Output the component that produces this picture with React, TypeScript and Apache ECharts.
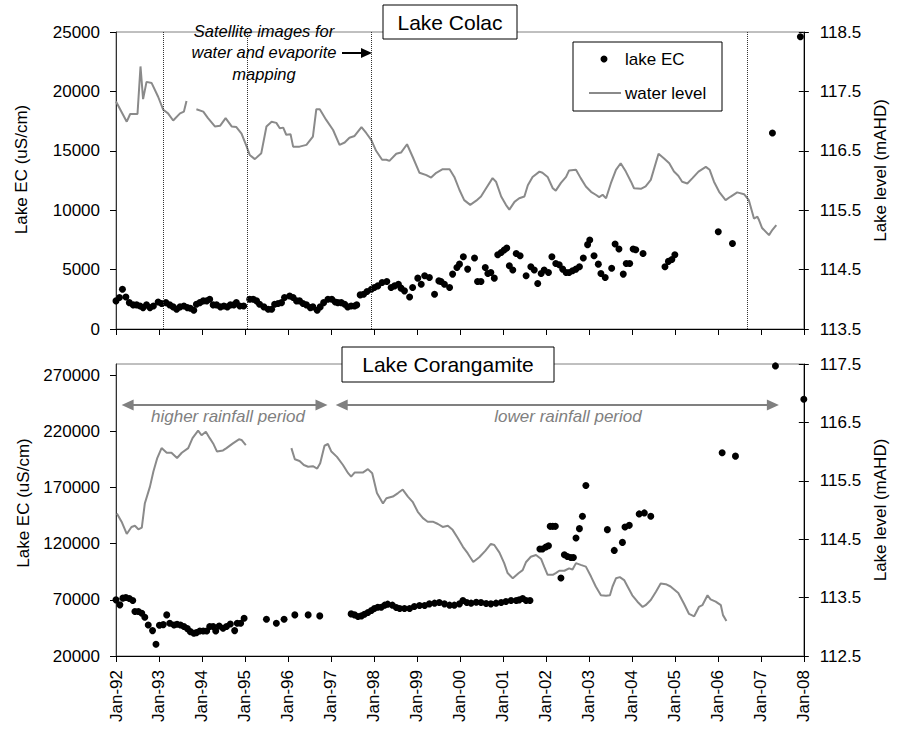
import React, { useEffect, useRef } from 'react';
import * as echarts from 'echarts';

// ---------- Lake Colac ----------
const colacLevelYear = [
  1992.0, 1992.25, 1992.33, 1992.5, 1992.57, 1992.63, 1992.71, 1992.83, 1992.98, 1993.1,
  1993.21, 1993.33, 1993.49, 1993.58, 1993.64, 1993.75, 1993.87, 1994.03, 1994.14, 1994.3,
  1994.42, 1994.55, 1994.69, 1994.8, 1994.92, 1995.04, 1995.11, 1995.23, 1995.38, 1995.5,
  1995.62, 1995.73, 1995.81, 1995.89, 1995.96, 1996.06, 1996.12, 1996.27, 1996.43, 1996.58,
  1996.66, 1996.74, 1996.89, 1997.05, 1997.2, 1997.32, 1997.43, 1997.55, 1997.71, 1997.82,
  1997.94, 1998.05, 1998.19, 1998.29, 1998.36, 1998.52, 1998.63, 1998.77, 1998.9, 1999.06,
  1999.22, 1999.33, 1999.45, 1999.6, 1999.76, 1999.87, 1999.99, 2000.1, 2000.24, 2000.38,
  2000.49, 2000.61, 2000.76, 2000.84, 2000.96, 2001.07, 2001.15, 2001.27, 2001.38, 2001.5,
  2001.58, 2001.69, 2001.85, 2001.92, 2002.04, 2002.16, 2002.23, 2002.35, 2002.47, 2002.54,
  2002.7, 2002.81, 2002.93, 2003.05, 2003.16, 2003.24, 2003.32, 2003.4, 2003.51, 2003.63,
  2003.74, 2003.86, 2003.98, 2004.05, 2004.21, 2004.32, 2004.44, 2004.62, 2004.75, 2004.87,
  2004.98, 2005.08, 2005.17, 2005.29, 2005.41, 2005.55, 2005.72, 2005.81, 2005.91, 2006.03,
  2006.18, 2006.3, 2006.45, 2006.61, 2006.72, 2006.84, 2006.92, 2006.96, 2007.03, 2007.19,
  2007.27, 2007.36,
];
const colacLevel = [
  117.33, 116.99, 117.12, 117.12, 117.92, 117.37, 117.66, 117.64, 117.41, 117.19,
  117.13, 117.01, 117.13, 117.16, 117.34, null, 117.2, 117.16, 117.05, 116.91,
  116.92, 117.05, 116.91, 116.9, 116.79, 116.57, 116.43, 116.36, 116.46, 116.91,
  116.99, 116.97, 116.88, 116.89, 116.77, 116.78, 116.57, 116.57, 116.6, 116.74,
  117.2, 117.2, 117.02, 116.85, 116.6, 116.64, 116.72, 116.75, 116.9, 116.8,
  116.68, 116.5, 116.35, 116.35, 116.33, 116.45, 116.47, 116.61, 116.4, 116.13,
  116.09, 116.05, 116.13, 116.19, 116.19, 116.06, 115.84, 115.67, 115.59, 115.66,
  115.73, 115.87, 116.04, 115.98, 115.73, 115.59, 115.51, 115.64, 115.7, 115.73,
  115.92, 116.06, 116.15, 116.13, 116.06, 115.87, 115.83, 115.96, 116.06, 116.17,
  116.18, 116.04, 115.9, 115.81, 115.76, 115.72, 115.76, 115.7, 115.95, 116.18,
  116.29, 116.15, 115.98, 115.87, 115.86, 115.9, 116.01, 116.45, 116.37, 116.29,
  116.15, 116.08, 115.98, 115.95, 116.04, 116.15, 116.23, 116.18, 115.98, 115.81,
  115.67, 115.73, 115.8, 115.77, 115.67, 115.36, 115.39, 115.33, 115.2, 115.08,
  115.17, 115.25,
];
const colacECYear = [
  1992.0, 1992.08, 1992.15, 1992.23, 1992.31, 1992.4, 1992.48, 1992.56, 1992.63, 1992.71,
  1992.79, 1992.87, 1992.98, 1993.06, 1993.16, 1993.25, 1993.33, 1993.41, 1993.49, 1993.58,
  1993.66, 1993.73, 1993.81, 1993.87, 1993.95, 1994.03, 1994.11, 1994.18, 1994.26, 1994.34,
  1994.43, 1994.51, 1994.59, 1994.66, 1994.74, 1994.8, 1994.88, 1994.97, 1995.11, 1995.19,
  1995.27, 1995.34, 1995.44, 1995.54, 1995.62, 1995.69, 1995.77, 1995.85, 1995.92, 1996.04,
  1996.12, 1996.2, 1996.27, 1996.35, 1996.43, 1996.52, 1996.58, 1996.68, 1996.75, 1996.83,
  1996.93, 1997.02, 1997.1, 1997.16, 1997.24, 1997.32, 1997.39, 1997.47, 1997.55, 1997.6,
  1997.68, 1997.76, 1997.84, 1997.94, 1998.01, 1998.09, 1998.19, 1998.3, 1998.4, 1998.48,
  1998.57, 1998.63, 1998.71, 1998.83, 1998.9, 1999.02, 1999.1, 1999.18, 1999.29, 1999.41,
  1999.51, 1999.56, 1999.64, 1999.76, 1999.83, 1999.93, 1999.99, 2000.08, 2000.18, 2000.34,
  2000.41, 2000.49, 2000.59, 2000.65, 2000.72, 2000.8, 2000.88, 2000.96, 2001.03, 2001.09,
  2001.15, 2001.23, 2001.31, 2001.4, 2001.54, 2001.65, 2001.73, 2001.81, 2001.89, 2001.96,
  2002.06, 2002.14, 2002.23, 2002.31, 2002.39, 2002.47, 2002.54, 2002.62, 2002.7, 2002.78,
  2002.87, 2002.97, 2003.02, 2003.12, 2003.22, 2003.28, 2003.38, 2003.53, 2003.61, 2003.7,
  2003.8, 2003.87, 2003.95, 2004.03, 2004.09, 2004.26, 2004.77, 2004.85, 2004.93, 2005.0,
  2006.01, 2006.34, 2007.27, 2007.92,
];
const colacEC = [
  2365, 2645, 3350, 2700, 2220, 2030, 2030, 1940, 1800, 2030,
  1800, 1940, 2280, 2140, 2220, 2030, 1860, 1660, 1860, 1940,
  1800, 1750, 1580, 2080, 2220, 2365, 2365, 2510, 2030, 2030,
  1860, 1940, 1860, 2030, 2030, 2220, 1940, 1940, 2510, 2510,
  2365, 2080, 1860, 1660, 1660, 2080, 2140, 2220, 2645, 2785,
  2645, 2365, 2365, 2140, 2030, 1800, 1860, 1580, 1860, 2220,
  2510, 2510, 2280, 2220, 2220, 2080, 1860, 1940, 1940, 2030,
  2870, 2930, 3150, 3350, 3490, 3630, 3910, 4000, 3490, 3630,
  3770, 3440, 3210, 2700, 3490, 4280, 3770, 4480, 4330, 2930,
  4050, 4000, 3770, 3490, 4620, 5180, 5460, 6080, 5040, 5970,
  4000, 4000, 5180, 4670, 4760, 4280, 6250, 6440, 6650, 6820,
  5320, 4960, 6360, 6170, 4480, 5240, 4960, 3830, 4670, 4960,
  4760, 6080, 5520, 5410, 5040, 4760, 4760, 4900, 5040, 5240,
  5970, 7100, 7490, 6170, 5460, 4670, 4330, 5120, 7150, 6730,
  4620, 5520, 5520, 6730, 6670, 6360, 5240, 5690, 5850, 6250,
  8190, 7200, 16500, 24600,
];
const satelliteImageDates = [1993.1, 1995.06, 1997.94, 2006.69];

// ---------- Lake Corangamite ----------
const corLevelYear = [
  1992.02, 1992.13, 1992.25, 1992.36, 1992.44, 1992.52, 1992.6, 1992.67, 1992.79, 1992.87,
  1992.96, 1993.06, 1993.18, 1993.29, 1993.42, 1993.53, 1993.68, 1993.78, 1993.91, 1993.99,
  1994.09, 1994.18, 1994.26, 1994.35, 1994.49, 1994.57, 1994.72, 1994.86, 1994.92, 1995.02,
  1995.55, 1996.08, 1996.16, 1996.27, 1996.37, 1996.47, 1996.58, 1996.68, 1996.75, 1996.85,
  1996.93, 1997.01, 1997.14, 1997.28, 1997.4, 1997.47, 1997.55, 1997.74, 1997.86, 1997.96,
  1998.07, 1998.21, 1998.29, 1998.44, 1998.56, 1998.67, 1998.79, 1998.9, 1999.02, 1999.14,
  1999.25, 1999.37, 1999.49, 1999.6, 1999.72, 1999.83, 1999.95, 2000.07, 2000.18, 2000.31,
  2000.45, 2000.59, 2000.72, 2000.8, 2000.92, 2001.03, 2001.11, 2001.23, 2001.37, 2001.46,
  2001.54, 2001.65, 2001.77, 2001.89, 2001.96, 2002.04, 2002.16, 2002.23, 2002.31, 2002.43,
  2002.54, 2002.62, 2002.7, 2002.81, 2002.93, 2003.05, 2003.16, 2003.28, 2003.4, 2003.49,
  2003.55, 2003.63, 2003.72, 2003.82, 2003.9, 2004.01, 2004.13, 2004.25, 2004.32, 2004.44,
  2004.56, 2004.67, 2004.79, 2004.9, 2005.08, 2005.21, 2005.33, 2005.45, 2005.56, 2005.64,
  2005.76, 2005.83, 2005.95, 2006.07, 2006.12, 2006.2,
];
const corLevel = [
  114.94, 114.8, 114.59, 114.71, 114.73, 114.67, 114.7, 115.11, 115.4, 115.66,
  115.89, 116.06, 115.98, 115.98, 115.89, 115.98, 116.06, 116.23, 116.36, 116.28,
  116.34, 116.23, 116.14, 116.0, 116.02, 116.06, 116.14, 116.21, 116.2, 116.11,
  null, 116.06, 115.87, 115.84, 115.77, 115.74, 115.75, 115.71, 115.8, 116.1,
  116.13, 116.0, 115.91, 115.77, 115.63, 115.57, 115.64, 115.64, 115.7, 115.63,
  115.29, 115.11, 115.2, 115.23, 115.29, 115.35, 115.23, 115.14, 114.97, 114.86,
  114.8, 114.8, 114.76, 114.71, 114.73, 114.66, 114.52, 114.37, 114.26, 114.11,
  114.19, 114.3, 114.42, 114.4, 114.27, 114.09, 113.92, 113.83, 113.92, 113.97,
  114.11, 114.2, 114.23, 114.16, 114.03, 113.89, 113.89, 113.92, 113.96, 113.96,
  114.0, 113.98, 114.09, 114.06, 114.03, 113.86, 113.69, 113.54, 113.53, 113.54,
  113.69, 113.83, 113.85, 113.8, 113.69, 113.54, 113.43, 113.34, 113.37, 113.46,
  113.6, 113.74, 113.73, 113.69, 113.58, 113.4, 113.22, 113.18, 113.34, 113.37,
  113.54, 113.47, 113.43, 113.37, 113.2, 113.1,
];
const corECYear = [
  1992.0, 1992.09, 1992.16, 1992.23, 1992.31, 1992.39, 1992.44, 1992.52, 1992.6, 1992.67,
  1992.75, 1992.85, 1992.93, 1993.01, 1993.1, 1993.18, 1993.25, 1993.35, 1993.42, 1993.5,
  1993.58, 1993.66, 1993.73, 1993.81, 1993.87, 1993.95, 1994.03, 1994.11, 1994.18, 1994.26,
  1994.32, 1994.4, 1994.49, 1994.57, 1994.66, 1994.76, 1994.82, 1994.9, 1994.98, 1995.5,
  1995.73, 1995.91, 1996.16, 1996.47, 1996.74, 1997.47, 1997.55, 1997.63, 1997.71, 1997.78,
  1997.86, 1997.94, 1998.01, 1998.09, 1998.17, 1998.25, 1998.32, 1998.43, 1998.52, 1998.6,
  1998.71, 1998.83, 1998.94, 1999.06, 1999.18, 1999.29, 1999.41, 1999.52, 1999.64, 1999.76,
  1999.87, 1999.99, 2000.07, 2000.16, 2000.26, 2000.38, 2000.49, 2000.61, 2000.72, 2000.84,
  2000.96, 2001.07, 2001.19, 2001.31, 2001.38, 2001.46, 2001.54, 2001.63,
  2001.86, 2001.92, 2002.0, 2002.06, 2002.1, 2002.16, 2002.22, 2002.35, 2002.43, 2002.5,
  2002.58, 2002.64, 2002.7, 2002.78, 2002.85, 2002.93, 2003.43, 2003.59, 2003.78, 2003.84,
  2003.94, 2004.17, 2004.29, 2004.44, 2006.1, 2006.41, 2007.34, 2008.0,
];
const corEC = [
  70000, 65540, 71520, 72100, 71160, 69400, 59560, 59560, 58130, 54560,
  47680, 42610, 30450, 47400, 47950, 56610, 49200, 47680, 48300, 47680,
  46200, 44400, 41700, 40270, 40800, 42320, 42320, 42320, 46200, 46200,
  42320, 46790, 44700, 46200, 48570, 42610, 49200, 49200, 53660, 52770,
  49200, 52770, 56610, 56610, 55720, 57500, 56610, 55100, 55720, 57200,
  58670, 60450, 62230, 63460, 63460, 65270, 66160, 65270, 63130, 62230,
  62230, 62230, 64020, 64910, 64910, 66430, 67050, 67590, 66430, 65270,
  65270, 66430, 69400, 67590, 67050, 67900, 67590, 66740, 66430, 67050,
  67590, 68490, 69400, 69400, 70000, 71160, 69400, 69400,
  115270, 115270, 117050, 118220, 135450, 135450, 135450, 89380, 110180, 108660,
  107770, 107770, 125090, 133400, 144380, 171790, 132500, 114020, 121160, 134910,
  136340, 146520, 147410, 144380, 201000, 197960, 278300, 248570,
];
const rainfallPeriodLabels = ['higher rainfall period', 'lower rainfall period'];
const rainfallPeriodFrom = [1992.27, 1997.25];
const rainfallPeriodTo = [1996.78, 2007.28];
const rainfallArrowEC = 243500;

// ---------- axis ticks ----------
const colacECTicks = [0, 5000, 10000, 15000, 20000, 25000];
const colacLevelTicks = [113.5, 114.5, 115.5, 116.5, 117.5, 118.5];
const corECTicks = [20000, 70000, 120000, 170000, 220000, 270000];
const corLevelTicks = [112.5, 113.5, 114.5, 115.5, 116.5, 117.5];
const yearMin = 1992;
const yearMax = 2008;

const FONT = '"Liberation Sans", Arial, Helvetica, sans-serif';

const zip = (xs: number[], ys: (number | null)[]) =>
  xs.map((x, i) => [x, ys[i] === null ? '-' : ys[i]]);

function xAxis(gridIndex: number, showLabels: boolean) {
  return {
    type: 'value',
    gridIndex,
    min: yearMin,
    max: yearMax,
    interval: 1,
    axisLine: { show: true, onZero: false, lineStyle: { color: '#000', width: 1 } },
    axisTick: { show: true, inside: false, length: 6, lineStyle: { color: '#000' } },
    axisLabel: {
      show: showLabels,
      rotate: 90,
      margin: 14,
      fontSize: 17,
      color: '#000',
      fontFamily: FONT,
      formatter: (v: number) => 'Jan-' + String(Math.round(v)).slice(2),
    },
    splitLine: { show: false },
  };
}

function yAxis(
  gridIndex: number,
  position: 'left' | 'right',
  min: number,
  max: number,
  ticks: number[],
  name: string,
  nameGap: number,
  nameShift: number,
  decimals: number,
) {
  return {
    type: 'value',
    gridIndex,
    position,
    min,
    max,
    name,
    nameLocation: 'middle',
    nameRotate: 90,
    nameGap,
    nameTextStyle: { fontSize: 17, color: '#000', fontFamily: FONT, padding: [0, 0, 0, nameShift] },
    axisLine: { show: true, onZero: false, lineStyle: { color: position === 'left' ? '#333' : '#000', width: 1 } },
    axisTick: { show: true, inside: false, length: position === 'left' ? 6 : 5, customValues: ticks, lineStyle: { color: '#000' } },
    axisLabel: {
      show: true,
      customValues: ticks,
      margin: 16,
      fontSize: 17,
      color: '#000',
      fontFamily: FONT,
      formatter: (v: number) => v.toFixed(decimals),
    },
    splitLine: { show: false },
  };
}

// inner half of the crossing tick marks on the right-hand (lake level) axes
function innerTickAxis(gridIndex: number, min: number, max: number, ticks: number[]) {
  return {
    type: 'value',
    gridIndex,
    position: 'right',
    min,
    max,
    axisLine: { show: false },
    axisTick: { show: true, inside: true, length: 5, customValues: ticks, lineStyle: { color: '#000' } },
    axisLabel: { show: false },
    splitLine: { show: false },
  };
}

function buildOption() {
  const textBase = { fontFamily: FONT, fill: '#000' };
  return {
    animation: false,
    backgroundColor: '#fff',
    textStyle: { fontFamily: FONT },
    grid: [
      { left: 116, top: 32, width: 689, height: 297, show: true, borderColor: '#808080', borderWidth: 1, backgroundColor: 'transparent' },
      { left: 116, top: 364, width: 689, height: 292, show: true, borderColor: '#808080', borderWidth: 1, backgroundColor: 'transparent' },
    ],
    xAxis: [xAxis(0, false), xAxis(1, true)],
    yAxis: [
      yAxis(0, 'left', 0, 25000, colacECTicks, 'Lake EC (uS/cm)', 86, 22, 0),
      yAxis(0, 'right', 113.5, 118.5, colacLevelTicks, 'Lake level (mAHD)', 65, 20, 1),
      yAxis(1, 'left', 20000, 280000, corECTicks, 'Lake EC (uS/cm)', 61, 14, 0),
      yAxis(1, 'right', 112.5, 117.5, corLevelTicks, 'Lake level (mAHD)', 65, 0, 1),
      innerTickAxis(0, 113.5, 118.5, colacLevelTicks),
      innerTickAxis(1, 112.5, 117.5, corLevelTicks),
    ],
    series: [
      {
        name: 'water level',
        type: 'line',
        xAxisIndex: 0,
        yAxisIndex: 1,
        data: zip(colacLevelYear, colacLevel),
        symbol: 'none',
        showSymbol: false,
        connectNulls: false,
        lineStyle: { color: '#8a8a8a', width: 2 },
        z: 2,
      },
      {
        name: 'lake EC',
        type: 'scatter',
        xAxisIndex: 0,
        yAxisIndex: 0,
        data: zip(colacECYear, colacEC),
        symbol: 'circle',
        symbolSize: 7,
        itemStyle: { color: '#000', opacity: 1 },
        z: 3,
        markLine: {
          silent: true,
          symbol: 'none',
          label: { show: false },
          lineStyle: { color: '#333', type: 'dotted', width: 1 },
          data: satelliteImageDates.map((d) => ({ xAxis: d })),
        },
      },
      {
        name: 'water level',
        type: 'line',
        xAxisIndex: 1,
        yAxisIndex: 3,
        data: zip(corLevelYear, corLevel),
        symbol: 'none',
        showSymbol: false,
        connectNulls: false,
        lineStyle: { color: '#8a8a8a', width: 2 },
        z: 2,
      },
      {
        name: 'lake EC',
        type: 'scatter',
        xAxisIndex: 1,
        yAxisIndex: 2,
        data: zip(corECYear, corEC),
        symbol: 'circle',
        symbolSize: 7,
        itemStyle: { color: '#000', opacity: 1 },
        z: 3,
        markLine: {
          silent: true,
          symbol: ['triangle', 'triangle'],
          symbolSize: [11, 12],
          label: { show: false },
          itemStyle: { color: '#808080' },
          lineStyle: { color: '#808080', type: 'solid', width: 2 },
          data: rainfallPeriodFrom.map((f, i) => [
            { coord: [f, rainfallArrowEC] },
            { coord: [rainfallPeriodTo[i], rainfallArrowEC] },
          ]),
        },
      },
    ],
    graphic: [
      // Lake Colac title box
      { type: 'rect', z: 100, shape: { x: 383, y: 5, width: 134, height: 34 }, style: { fill: '#fff', stroke: '#000', lineWidth: 1 } },
      { type: 'text', z: 101, x: 450, y: 22, style: { ...textBase, text: 'Lake Colac', fontSize: 21, align: 'center', verticalAlign: 'middle' } },
      // Lake Corangamite title box
      { type: 'rect', z: 100, shape: { x: 342, y: 347, width: 212, height: 35 }, style: { fill: '#fff', stroke: '#000', lineWidth: 1 } },
      { type: 'text', z: 101, x: 448, y: 364.5, style: { ...textBase, text: 'Lake Corangamite', fontSize: 21, align: 'center', verticalAlign: 'middle' } },
      // legend
      { type: 'rect', z: 100, shape: { x: 573, y: 42, width: 149, height: 69 }, style: { fill: '#fff', stroke: '#000', lineWidth: 1 } },
      { type: 'circle', z: 101, shape: { cx: 604, cy: 59, r: 3.5 }, style: { fill: '#000' } },
      { type: 'text', z: 101, x: 625, y: 59, style: { ...textBase, text: 'lake EC', fontSize: 17, align: 'left', verticalAlign: 'middle' } },
      { type: 'line', z: 101, shape: { x1: 589, y1: 93, x2: 621, y2: 93 }, style: { stroke: '#8a8a8a', lineWidth: 2 } },
      { type: 'text', z: 101, x: 625, y: 93, style: { ...textBase, text: 'water level', fontSize: 17, align: 'left', verticalAlign: 'middle' } },
      // satellite annotation
      {
        type: 'text', z: 101, x: 264, y: 52,
        style: { ...textBase, text: 'Satellite images for\nwater and evaporite\nmapping', fontSize: 16.5, fontStyle: 'italic', align: 'center', verticalAlign: 'middle', lineHeight: 21.5 },
      },
      { type: 'line', z: 101, shape: { x1: 342, y1: 53, x2: 363, y2: 53 }, style: { stroke: '#000', lineWidth: 2 } },
      { type: 'polygon', z: 101, shape: { points: [[372, 53], [361, 48], [361, 58]] }, style: { fill: '#000' } },
      // rainfall period labels
      {
        type: 'text', z: 101, x: 228, y: 416,
        style: { fontFamily: FONT, fill: '#808080', text: rainfallPeriodLabels[0], fontSize: 17, fontStyle: 'italic', align: 'center', verticalAlign: 'middle' },
      },
      {
        type: 'text', z: 101, x: 568, y: 416,
        style: { fontFamily: FONT, fill: '#808080', text: rainfallPeriodLabels[1], fontSize: 17, fontStyle: 'italic', align: 'center', verticalAlign: 'middle' },
      },
    ],
  };
}

export default function App() {
  const ref = useRef<HTMLDivElement>(null);
  useEffect(() => {
    document.body.style.margin = '0';
    const chart = echarts.init(ref.current!, null, { renderer: 'svg' });
    chart.setOption(buildOption() as any);
    return () => chart.dispose();
  }, []);
  return (
    <div
      ref={ref}
      style={{ position: 'absolute', left: 0, top: 0, width: 897, height: 731, background: '#fff' }}
    />
  );
}
